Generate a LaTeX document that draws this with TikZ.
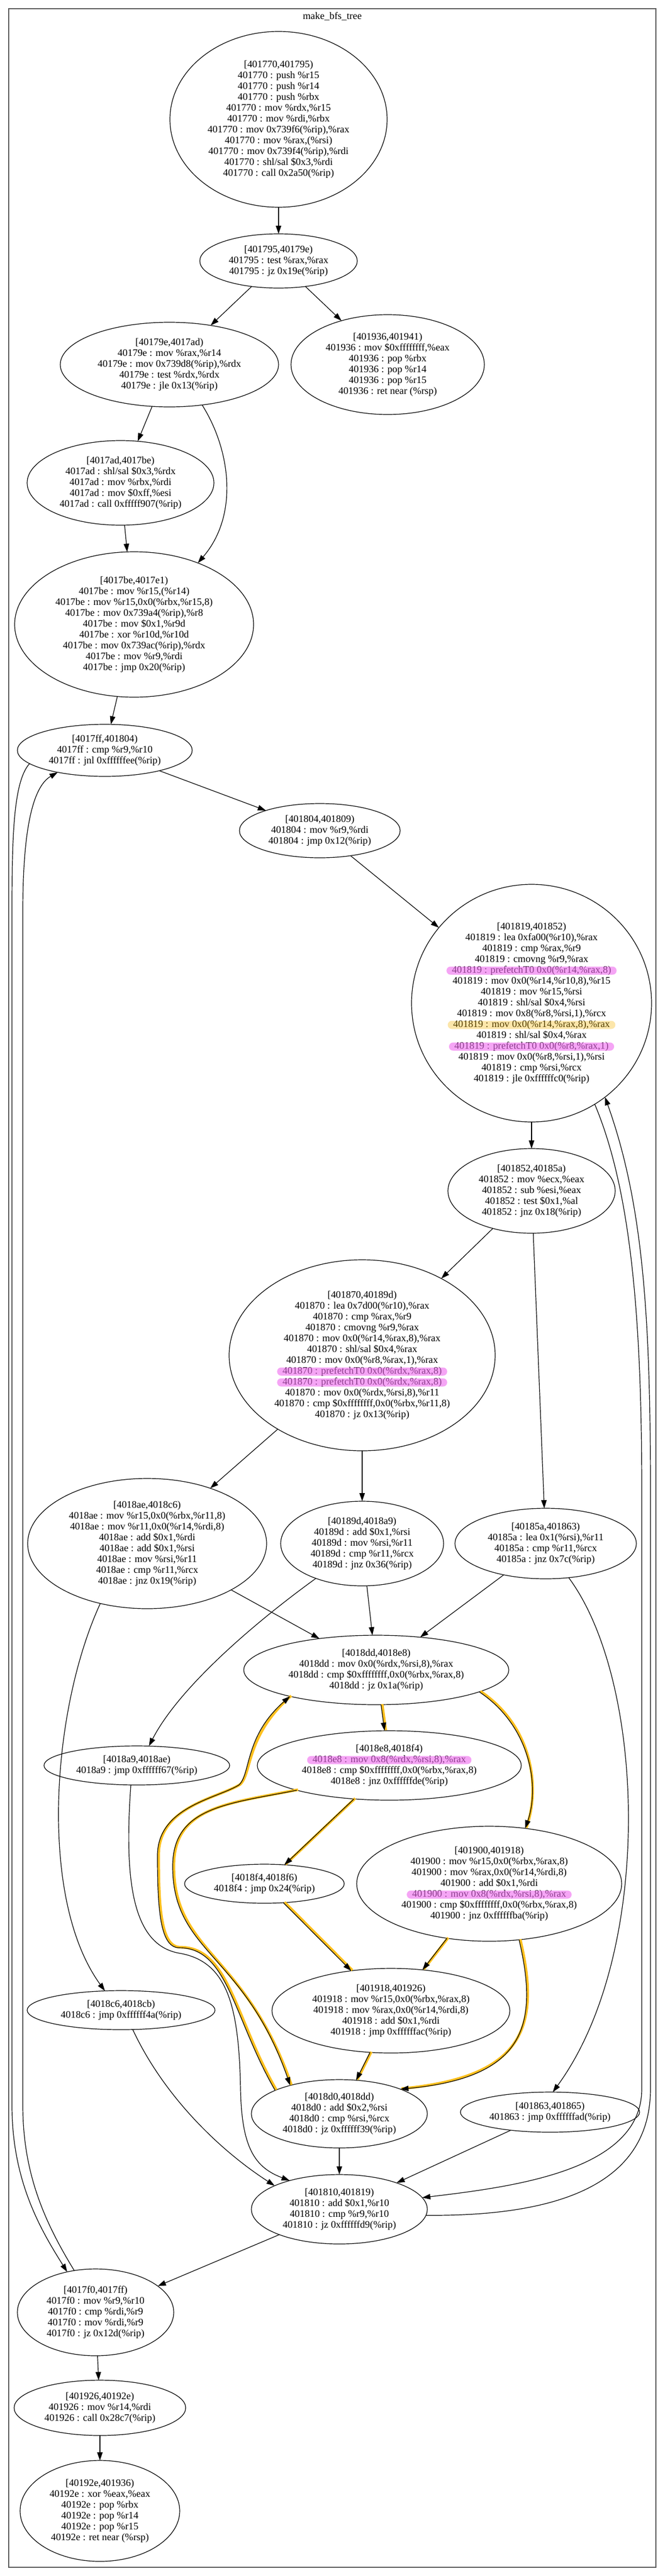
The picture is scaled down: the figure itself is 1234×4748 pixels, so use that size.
\documentclass[tikz,border=0pt]{standalone}
\usepackage{fontspec}
\setmainfont{Liberation Serif}
\usetikzlibrary{shapes.geometric,arrows.meta}
\definecolor{hlpink}{RGB}{238,105,238}
\definecolor{hlgold}{RGB}{246,183,11}
\definecolor{hotline}{RGB}{255,192,30}
\begin{document}
\begin{tikzpicture}[x=0.5pt,y=-0.5pt,
  blk/.style={draw,ellipse,line width=0.6pt,inner sep=0pt,outer sep=0pt,align=center,font=\fontsize{9.2}{10}\selectfont},
  flow/.style={-{Triangle[length=7.5pt,width=5pt]},line width=0.6pt},
  hot/.style={flow,preaction={draw=hotline,line width=2.4pt,-,transform canvas={xshift=1.1pt,yshift=0.5pt}}},
  pinkmark/.style={fill=hlpink,fill opacity=0.6,rounded corners=3.7pt,inner xsep=5pt,inner ysep=0pt,minimum height=7.5pt,font=\fontsize{9.2}{10}\selectfont},
  goldmark/.style={pinkmark,fill=hlgold,fill opacity=0.35}]
\useasboundingbox (0,0) rectangle (1234,4748);
\draw[line width=1pt,black!65] (15.5,16) rectangle (1208,4732);
\node[font=\fontsize{9.2}{10}\selectfont] (title) at (612,30) {make\_bfs\_tree};
% blocks
\node[blk,minimum width=200pt,minimum height=162pt] (B1770) at (513,220) {[401770,401795)\\401770 : push \%r15\\401770 : push \%r14\\401770 : push \%rbx\\401770 : mov \%rdx,\%r15\\401770 : mov \%rdi,\%rbx\\401770 : mov 0x739f6(\%rip),\%rax\\401770 : mov \%rax,(\%rsi)\\401770 : mov 0x739f4(\%rip),\%rdi\\401770 : shl/sal \$0x3,\%rdi\\401770 : call 0x2a50(\%rip)};
\node[blk,minimum width=145pt,minimum height=50pt] (B1795) at (513,481) {[401795,40179e)\\401795 : test \%rax,\%rax\\401795 : jz 0x19e(\%rip)};
\node[blk,minimum width=201pt,minimum height=78pt] (B179e) at (312,672) {[40179e,4017ad)\\40179e : mov \%rax,\%r14\\40179e : mov 0x739d8(\%rip),\%rdx\\40179e : test \%rdx,\%rdx\\40179e : jle 0x13(\%rip)};
\node[blk,minimum width=178pt,minimum height=92pt] (B1936) at (714,672) {[401936,401941)\\401936 : mov \$0xffffffff,\%eax\\401936 : pop \%rbx\\401936 : pop \%r14\\401936 : pop \%r15\\401936 : ret near (\%rsp)};
\node[blk,minimum width=172pt,minimum height=78pt] (B17ad) at (222,890) {[4017ad,4017be)\\4017ad : shl/sal \$0x3,\%rdx\\4017ad : mov \%rbx,\%rdi\\4017ad : mov \$0xff,\%esi\\4017ad : call 0xfffff907(\%rip)};
\node[blk,minimum width=220pt,minimum height=134pt] (B17be) at (247,1151) {[4017be,4017e1)\\4017be : mov \%r15,(\%r14)\\4017be : mov \%r15,0x0(\%rbx,\%r15,8)\\4017be : mov 0x739a4(\%rip),\%r8\\4017be : mov \$0x1,\%r9d\\4017be : xor \%r10d,\%r10d\\4017be : mov 0x739ac(\%rip),\%rdx\\4017be : mov \%r9,\%rdi\\4017be : jmp 0x20(\%rip)};
\node[blk,minimum width=161pt,minimum height=48pt] (B17ff) at (193,1383) {[4017ff,401804)\\4017ff : cmp \%r9,\%r10\\4017ff : jnl 0xffffffee(\%rip)};
\node[blk,minimum width=148pt,minimum height=50pt] (B1804) at (589,1531) {[401804,401809)\\401804 : mov \%r9,\%rdi\\401804 : jmp 0x12(\%rip)};
\node[blk,minimum width=221pt,minimum height=219pt] (B1819) at (979,1849) {[401819,401852)\\401819 : lea 0xfa00(\%r10),\%rax\\401819 : cmp \%rax,\%r9\\401819 : cmovng \%r9,\%rax\\401819 : prefetchT0 0x0(\%r14,\%rax,8)\\401819 : mov 0x0(\%r14,\%r10,8),\%r15\\401819 : mov \%r15,\%rsi\\401819 : shl/sal \$0x4,\%rsi\\401819 : mov 0x8(\%r8,\%rsi,1),\%rcx\\401819 : mov 0x0(\%r14,\%rax,8),\%rax\\401819 : shl/sal \$0x4,\%rax\\401819 : prefetchT0 0x0(\%r8,\%rax,1)\\401819 : mov 0x0(\%r8,\%rsi,1),\%rsi\\401819 : cmp \%rsi,\%rcx\\401819 : jle 0xffffffc0(\%rip)};
\node[blk,minimum width=154pt,minimum height=78pt] (B1852) at (979,2195) {[401852,40185a)\\401852 : mov \%ecx,\%eax\\401852 : sub \%esi,\%eax\\401852 : test \$0x1,\%al\\401852 : jnz 0x18(\%rip)};
\node[blk,minimum width=245pt,minimum height=176pt] (B1870) at (667,2498) {[401870,40189d)\\401870 : lea 0x7d00(\%r10),\%rax\\401870 : cmp \%rax,\%r9\\401870 : cmovng \%r9,\%rax\\401870 : mov 0x0(\%r14,\%rax,8),\%rax\\401870 : shl/sal \$0x4,\%rax\\401870 : mov 0x0(\%r8,\%rax,1),\%rax\\401870 : prefetchT0 0x0(\%rdx,\%rax,8)\\401870 : prefetchT0 0x0(\%rdx,\%rax,8)\\401870 : mov 0x0(\%rdx,\%rsi,8),\%r11\\401870 : cmp \$0xffffffff,0x0(\%rbx,\%r11,8)\\401870 : jz 0x13(\%rip)};
\node[blk,minimum width=220pt,minimum height=120pt] (B18ae) at (271,2845) {[4018ae,4018c6)\\4018ae : mov \%r15,0x0(\%rbx,\%r11,8)\\4018ae : mov \%r11,0x0(\%r14,\%rdi,8)\\4018ae : add \$0x1,\%rdi\\4018ae : add \$0x1,\%rsi\\4018ae : mov \%rsi,\%r11\\4018ae : cmp \%r11,\%rcx\\4018ae : jnz 0x19(\%rip)};
\node[blk,minimum width=150pt,minimum height=78pt] (B189d) at (667,2845) {[40189d,4018a9)\\40189d : add \$0x1,\%rsi\\40189d : mov \%rsi,\%r11\\40189d : cmp \%r11,\%rcx\\40189d : jnz 0x36(\%rip)};
\node[blk,minimum width=167pt,minimum height=65pt] (B185a) at (1005,2845) {[40185a,401863)\\40185a : lea 0x1(\%rsi),\%r11\\40185a : cmp \%r11,\%rcx\\40185a : jnz 0x7c(\%rip)};
\node[blk,minimum width=244pt,minimum height=64pt] (B18dd) at (693,3078) {[4018dd,4018e8)\\4018dd : mov 0x0(\%rdx,\%rsi,8),\%rax\\4018dd : cmp \$0xffffffff,0x0(\%rbx,\%rax,8)\\4018dd : jz 0x1a(\%rip)};
\node[blk,minimum width=171pt,minimum height=36pt] (B18a9) at (252,3254) {[4018a9,4018ae)\\4018a9 : jmp 0xffffff67(\%rip)};
\node[blk,minimum width=243pt,minimum height=64pt] (B18e8) at (717,3254) {[4018e8,4018f4)\\4018e8 : mov 0x8(\%rdx,\%rsi,8),\%rax\\4018e8 : cmp \$0xffffffff,0x0(\%rbx,\%rax,8)\\4018e8 : jnz 0xffffffde(\%rip)};
\node[blk,minimum width=147pt,minimum height=36pt] (B18f4) at (487,3472) {[4018f4,4018f6)\\4018f4 : jmp 0x24(\%rip)};
\node[blk,minimum width=244pt,minimum height=106pt] (B1900) at (901,3472) {[401900,401918)\\401900 : mov \%r15,0x0(\%rbx,\%rax,8)\\401900 : mov \%rax,0x0(\%r14,\%rdi,8)\\401900 : add \$0x1,\%rdi\\401900 : mov 0x8(\%rdx,\%rsi,8),\%rax\\401900 : cmp \$0xffffffff,0x0(\%rbx,\%rax,8)\\401900 : jnz 0xffffffba(\%rip)};
\node[blk,minimum width=173pt,minimum height=36pt] (B18c6) at (223,3705) {[4018c6,4018cb)\\4018c6 : jmp 0xffffff4a(\%rip)};
\node[blk,minimum width=219pt,minimum height=78pt] (B1918) at (720,3706) {[401918,401926)\\401918 : mov \%r15,0x0(\%rbx,\%rax,8)\\401918 : mov \%rax,0x0(\%r14,\%rdi,8)\\401918 : add \$0x1,\%rdi\\401918 : jmp 0xffffffac(\%rip)};
\node[blk,minimum width=165pt,minimum height=37pt] (B1863) at (1013,3893) {[401863,401865)\\401863 : jmp 0xffffffad(\%rip)};
\node[blk,minimum width=162pt,minimum height=63pt] (B18d0) at (625,3896) {[4018d0,4018dd)\\4018d0 : add \$0x2,\%rsi\\4018d0 : cmp \%rsi,\%rcx\\4018d0 : jz 0xffffff39(\%rip)};
\node[blk,minimum width=162pt,minimum height=64pt] (B1810) at (625,4072) {[401810,401819)\\401810 : add \$0x1,\%r10\\401810 : cmp \%r9,\%r10\\401810 : jz 0xffffffd9(\%rip)};
\node[blk,minimum width=144pt,minimum height=80pt] (B17f0) at (176,4262) {[4017f0,4017ff)\\4017f0 : mov \%r9,\%r10\\4017f0 : cmp \%rdi,\%r9\\4017f0 : mov \%rdi,\%r9\\4017f0 : jz 0x12d(\%rip)};
\node[blk,minimum width=158pt,minimum height=51pt] (B1926) at (184,4438) {[401926,40192e)\\401926 : mov \%r14,\%rdi\\401926 : call 0x28c7(\%rip)};
\node[blk,minimum width=147pt,minimum height=93pt] (B192e) at (184,4628) {[40192e,401936)\\40192e : xor \%eax,\%eax\\40192e : pop \%rbx\\40192e : pop \%r14\\40192e : pop \%r15\\40192e : ret near (\%rsp)};
% marked lines
\node[pinkmark,yshift=30pt] (mk1) at (B1819) {\hphantom{401819 : prefetchT0 0x0(\%r14,\%rax,8)}};
\node[goldmark,yshift=-20pt] (mk2) at (B1819) {\hphantom{401819 : mov 0x0(\%r14,\%rax,8),\%rax}};
\node[pinkmark,yshift=-40pt] (mk3) at (B1819) {\hphantom{401819 : prefetchT0 0x0(\%r8,\%rax,1)}};
\node[pinkmark,yshift=-15pt] (mk4) at (B1870) {\hphantom{401870 : prefetchT0 0x0(\%rdx,\%rax,8)}};
\node[pinkmark,yshift=-25pt] (mk5) at (B1870) {\hphantom{401870 : prefetchT0 0x0(\%rdx,\%rax,8)}};
\node[pinkmark,yshift=5pt] (mk6) at (B18e8) {\hphantom{4018e8 : mov 0x8(\%rdx,\%rsi,8),\%rax}};
\node[pinkmark,yshift=-10pt] (mk7) at (B1900) {\hphantom{401900 : mov 0x8(\%rdx,\%rsi,8),\%rax}};
% edges
\draw[flow] (B1770) -- (B1795);
\draw[flow] (B1795) -- (B179e);
\draw[flow] (B1795) -- (B1936);
\draw[flow] (B179e) -- (B17ad);
\draw[flow] (B179e.309) .. controls (425,830) and (440,950) .. (B17be.44);
\draw[flow] (B17ad) -- (B17be);
\draw[flow] (B17be) -- (B17ff);
\draw[flow] (B17ff) -- (B1804);
\draw[flow] (B17ff.190) .. controls (25,1440) and (22,1540) .. (22,1680) -- (22,3880) .. controls (22,4020) and (75,4110) .. (B17f0.125);
\draw[flow] (B1804) -- (B1819);
\draw[flow] (B1819) -- (B1852);
\draw[flow] (B1819.302) .. controls (1165,2200) and (1182,2450) .. (1182,2750) -- (1182,3850) .. controls (1182,4000) and (950,4030) .. (B1810.8);
\draw[flow] (B1852) -- (B1870);
\draw[flow] (B1852) -- (B185a);
\draw[flow] (B1870) -- (B18ae);
\draw[flow] (B1870) -- (B189d);
\draw[flow] (B18ae) -- (B18dd);
\draw[flow] (B18ae.232) .. controls (95,3150) and (70,3500) .. (B18c6.130);
\draw[flow] (B189d) -- (B18dd);
\draw[flow] (B189d.217) .. controls (470,2990) and (330,3110) .. (B18a9.58);
\draw[flow] (B185a) -- (B18dd);
\draw[flow] (B185a.304) .. controls (1190,3100) and (1205,3600) .. (B1863.82);
\draw[hot] (B18dd) -- (B18e8);
\draw[hot] (B18dd.348) .. controls (975,3180) and (995,3290) .. (B1900.57);
\draw[hot] (B18e8) -- (B18f4);
\draw[hot] (B18e8.195) .. controls (420,3325) and (318,3330) .. (318,3440) .. controls (318,3600) and (450,3600) .. (B18d0.150);
\draw[hot] (B18f4) -- (B1918);
\draw[hot] (B1900) -- (B1918);
\draw[hot] (B1900.298) .. controls (995,3740) and (960,3830) .. (B18d0.22);
\draw[hot] (B1918) -- (B18d0);
\draw[hot] (B18d0.160) .. controls (430,3720) and (420,3590) .. (330,3590) .. controls (295,3590) and (290,3520) .. (290,3420) .. controls (290,3330) and (400,3315) .. (440,3290) .. controls (462,3270) and (450,3200) .. (B18dd.197);
\draw[flow] (B18d0) -- (B1810);
\draw[flow] (B18a9.253) .. controls (228,3470) and (245,3585) .. (330,3600) .. controls (420,3615) and (440,3700) .. (443,3850) .. controls (445,3960) and (470,3995) .. (B1810.150);
\draw[flow] (B18c6.301) .. controls (300,3860) and (400,3960) .. (B1810.160);
\draw[flow] (B1863) -- (B1810);
\draw[flow] (B1810) -- (B17f0);
\draw[flow] (B1810.356) .. controls (1000,4085) and (1198,4040) .. (1198,3850) -- (1198,2750) .. controls (1198,2430) and (1185,2220) .. (B1819.308);
\draw[flow] (B17f0.117) .. controls (85,4100) and (42,4010) .. (42,3880) -- (42,1680) .. controls (42,1530) and (60,1450) .. (B17ff.205);
\draw[flow] (B17f0) -- (B1926);
\draw[flow] (B1926) -- (B192e);
\end{tikzpicture}
\end{document}
